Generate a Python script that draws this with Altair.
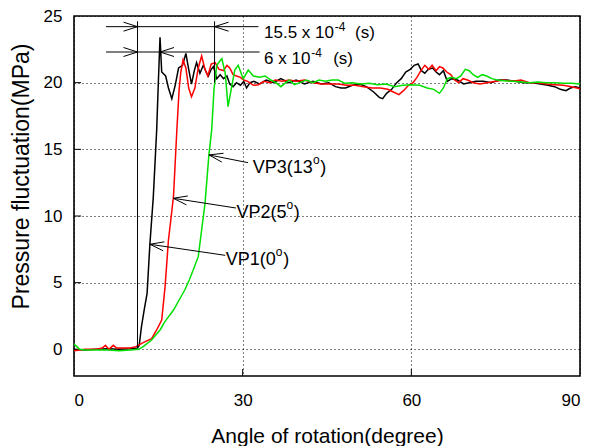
import math
import altair as alt
import pandas as pd

# ---------------- data ----------------
vp1_angle = [0, 2, 4, 6, 8, 10, 11.3, 11.6, 12.0, 12.5, 13.0, 13.5, 14.1, 14.7, 15.0, 15.3, 15.6,
             16.3, 16.8, 17.4, 18.0, 18.6, 19.3, 19.9, 20.4, 20.9, 21.4, 21.8, 22.4, 23.0, 23.5,
             23.9, 24.4, 24.8, 25.4, 26.0, 26.6, 27.2, 27.7, 28.3, 28.9, 29.6, 30.2, 30.7, 31.3,
             32.0, 33.0, 34.2, 35.5, 36.8, 38.2, 39.5, 41.0, 42.5, 44.0, 45.3, 46.5, 47.5, 48.3,
             49.5, 50.8, 52.0, 53.3, 54.3, 54.9, 55.6, 56.5, 57.4, 58.2, 59.0, 59.8, 60.5, 61.2,
             61.8, 62.4, 63.0, 63.8, 64.4, 65.0, 65.7, 66.4, 67.2, 68.2, 69.3, 70.3, 71.5, 72.8,
             74.2, 75.6, 77.0, 78.5, 80.0, 81.5, 83.0, 84.3, 85.5, 86.5, 87.5, 88.3, 89.2, 90.0]
vp1_pressure = [0.0, -0.05, 0.0, 0.05, 0.0, 0.05, 0.1, 0.3, 1.7, 3.0, 4.2, 7.9, 11.4, 16.4, 20.0, 23.4, 20.8,
                20.5, 19.6, 18.8, 19.8, 21.1, 21.3, 22.2, 21.0, 19.9, 20.9, 21.5, 20.7, 21.3, 20.8,
                20.5, 21.0, 21.2, 20.3, 20.6, 20.3, 20.5, 19.9, 19.7, 20.0, 19.8, 20.1, 19.6, 20.0,
                20.1, 19.9, 20.2, 20.0, 20.3, 20.0, 20.2, 19.9, 20.1, 19.9, 20.0, 19.7, 19.6, 19.6,
                19.8, 19.9, 19.7, 19.3, 18.9, 18.8, 19.2, 19.5, 20.0, 20.3, 20.8, 21.0, 21.3, 21.4,
                20.9, 20.7, 21.0, 21.1, 20.8, 20.6, 20.9, 20.1, 20.3, 20.2, 19.9, 20.0, 20.1, 20.1,
                20.0, 20.2, 20.2, 20.1, 20.0, 20.0, 19.9, 19.8, 19.7, 19.5, 19.4, 19.6, 19.7, 19.6]

vp2_angle = [0, 1, 2, 3, 4, 5, 5.6, 6.2, 7.0, 7.6, 8.3, 9, 10, 11, 12.3, 13.8, 14.7, 15.6, 16.2,
             16.8, 17.3, 17.7, 18.3, 18.7, 19.0, 19.4, 19.9, 20.4, 20.9, 21.5, 22.1, 22.7, 23.3,
             23.8, 24.4, 25.1, 25.8, 26.6, 27.2, 27.7, 28.3, 28.9, 29.6, 30.2, 30.9, 31.9, 32.8,
             33.8, 34.8, 35.8, 37.0, 38.3, 39.5, 41.0, 42.5, 44.0, 45.5, 47.0, 48.5, 50.0, 51.5,
             53.0, 54.5, 55.8, 56.8, 57.8, 58.6, 59.5, 60.3, 61.0, 61.7, 62.4, 63.1, 63.7, 64.4,
             65.0, 65.6, 66.3, 67.0, 67.7, 68.4, 69.2, 70.0, 71.0, 72.2, 73.5, 75.0, 76.5, 78.0,
             79.5, 81.0, 82.5, 84.0, 85.5, 87.0, 88.5, 90.0]
vp2_pressure = [-0.1, -0.05, 0.0, 0.0, 0.0, 0.1, 0.3, 0.0, 0.3, 0.1, 0.1, 0.1, 0.1, 0.2, 0.5, 0.8, 1.45, 2.2, 4.7,
                8.2, 10.0, 11.5, 16.5, 19.5, 20.8, 21.7, 21.1, 19.6, 18.95, 19.6, 21.1, 22.0, 21.0,
                20.5, 21.4, 21.5, 21.0, 20.9, 21.3, 21.1, 20.6, 20.5, 20.4, 20.2, 20.1, 19.8, 19.85,
                20.1, 20.0, 20.2, 20.1, 20.2, 20.1, 20.2, 20.0, 19.9, 19.9, 19.9, 19.8, 19.8, 19.7,
                19.6, 19.6, 19.5, 19.3, 19.1, 19.4, 19.8, 20.0, 20.4, 20.9, 21.3, 21.0, 21.3, 20.9,
                21.2, 21.1, 20.8, 20.6, 20.2, 20.0, 20.3, 20.2, 20.0, 19.9, 20.0, 20.1, 20.2, 20.1,
                20.2, 20.0, 20.0, 19.9, 19.85, 19.8, 19.7, 19.55]

vp3_angle = [0, 0.5, 1.0, 2, 3, 4, 6, 8, 10, 11.5, 12.3, 13.8, 15.3, 16.2, 17.7, 18.7, 19.7, 20.5,
             21.2, 22.1, 22.7, 23.3, 24.0, 24.5, 24.9, 25.4, 25.9, 26.3, 26.9, 27.4, 28.05, 28.6,
             29.2, 30.1, 31.0, 31.9, 33.0, 34.0, 35.0, 35.9, 36.8, 37.5, 38.3, 39.2, 40.2, 41.3,
             42.5, 43.6, 44.7, 45.9, 47.0, 48.2, 49.5, 51.0, 52.5, 54.0, 55.5, 57.0, 58.5, 60.0,
             61.5, 62.8, 64.0, 65.0, 65.7, 66.4, 67.2, 68.0, 68.8, 69.6, 70.3, 71.0, 71.8, 72.6,
             73.4, 74.3, 75.3, 76.5, 78.0, 79.5, 81.0, 82.5, 84.0, 85.5, 87.0, 88.5, 90.0]
vp3_pressure = [0.4, 0.2, 0.0, -0.05, -0.05, -0.05, -0.05, -0.1, -0.05, 0.0, 0.2, 0.7, 1.45, 2.1, 2.95, 3.7, 4.45, 5.2,
                5.95, 6.95, 8.95, 10.95, 14.6, 16.5, 19.5, 21.3, 21.6, 21.8, 20.7, 18.2, 19.7, 20.95,
                21.3, 20.3, 20.95, 20.5, 20.4, 20.5, 20.2, 20.0, 19.7, 19.95, 20.2, 19.85, 20.0, 20.2,
                20.0, 20.2, 20.1, 20.2, 20.2, 19.95, 20.0, 19.9, 19.95, 19.85, 19.9, 19.7, 19.8, 19.85,
                19.8, 19.6, 19.5, 19.2, 19.6, 20.3, 20.4, 20.3, 20.5, 21.0, 20.9, 20.6, 20.4, 20.6,
                20.5, 20.3, 20.2, 20.15, 20.1, 20.05, 20.0, 20.05, 20.0, 20.0, 19.95, 19.95, 19.9]

series_names = ["VP1", "VP2", "VP3"]
series_colors = ["#000000", "#ff0000", "#00e000"]

x_ticks = [0, 30, 60, 90]
y_ticks = [0, 5, 10, 15, 20, 25]

# annotation content (data units)
dim_lines = [  # x, y, x2, y2
    (5.7, 24.2, 32.8, 24.2),
    (5.7, 22.3, 33.0, 22.3),
    (11.3, 0.1, 11.3, 24.6),
    (25.0, 20.0, 25.0, 24.6),
]
dim_heads = [  # tail, tip
    ((5.7, 24.2), (11.3, 24.2)),
    ((32.8, 24.2), (25.0, 24.2)),
    ((5.7, 22.3), (11.3, 22.3)),
    ((33.0, 22.3), (15.3, 22.3)),
]
label_arrows = [  # tail (at label), tip (at curve)
    ((30.95, 14.0), (24.0, 14.58)),
    ((28.8, 10.6), (17.66, 11.33)),
    ((26.9, 7.05), (13.5, 7.88)),
]
dim_texts = [
    ("15.5 x 10", 33.8, 23.35), ("(s)", 50.0, 23.35),
    ("6 x 10", 33.8, 21.4), ("(s)", 46.1, 21.4),
]
vp_texts = [
    ("VP3(13", 31.8, 13.2), (")", 43.8, 13.2),
    ("VP2(5", 28.9, 9.83), (")", 39.1, 9.83),
    ("VP1(0", 27.0, 6.32), (")", 37.2, 6.32),
]
sup_texts = [
    ("-4", 46.4, 23.9), ("-4", 42.2, 21.95),
    ("o", 42.5, 13.9), ("o", 37.8, 10.5), ("o", 35.9, 7.0),
]

# ---------------- geometry ----------------
W, H = 506, 360
XD = [0, 90]
YD = [-2, 25]
PX_X = W / (XD[1] - XD[0])
PX_Y = H / (YD[1] - YD[0])
FONT = "Liberation Sans"

rows = []
for name, xs_, ys_ in zip(series_names, [vp1_angle, vp2_angle, vp3_angle],
                          [vp1_pressure, vp2_pressure, vp3_pressure]):
    for i, (a, p) in enumerate(zip(xs_, ys_)):
        rows.append({"series": name, "angle": a, "pressure": p, "order": i})
lines_df = pd.DataFrame(rows)


def head(tail, tip, L=14.0, half=4.5):
    dx = (tip[0] - tail[0]) * PX_X
    dy = (tip[1] - tail[1]) * PX_Y
    n = math.hypot(dx, dy)
    ux, uy = dx / n, dy / n
    px, py = -uy, ux
    segs = []
    for s in (1, -1):
        wx = (-ux * L + s * px * half) / PX_X
        wy = (-uy * L + s * py * half) / PX_Y
        segs.append((tip[0], tip[1], tip[0] + wx, tip[1] + wy))
    return segs


seg_rows = []
for (x, y, x2, y2) in dim_lines:
    seg_rows.append({"x": x, "y": y, "x2": x2, "y2": y2})
for tail, tip in label_arrows:
    seg_rows.append({"x": tail[0], "y": tail[1], "x2": tip[0], "y2": tip[1]})
for tail, tip in dim_heads + label_arrows:
    for (a, b, c, d) in head(tail, tip):
        seg_rows.append({"x": a, "y": b, "x2": c, "y2": d})
# inward ticks
for t in x_ticks[1:-1]:
    seg_rows.append({"x": t, "y": YD[0], "x2": t, "y2": YD[0] + 7 / PX_Y})
for t in y_ticks[1:-1]:
    seg_rows.append({"x": XD[0], "y": t, "x2": XD[0] + 7 / PX_X, "y2": t})
seg_df = pd.DataFrame(seg_rows)

dim_df = pd.DataFrame(dim_texts, columns=["text", "x", "y"])
vp_df = pd.DataFrame(vp_texts, columns=["text", "x", "y"])
sup_df = pd.DataFrame(sup_texts, columns=["text", "x", "y"])

xs = alt.Scale(domain=XD, nice=False, zero=False)
ys = alt.Scale(domain=YD, nice=False, zero=False)
XT = "Angle of rotation(degree)"
YT = "Pressure fluctuation(MPa)"
x_axis = alt.Axis(values=x_ticks, labelFontSize=17, labelPadding=29, labelBaseline="alphabetic",
                  titleFontSize=21, titleBaseline="alphabetic", titleY=66)
y_axis = alt.Axis(values=y_ticks, labelFontSize=17, labelPadding=12,
                  titleFontSize=23, titleX=-41, titleY=160, titleBaseline="bottom")


def X(f):
    return alt.X(f, type="quantitative", scale=xs, axis=x_axis, title=XT)


def Y(f):
    return alt.Y(f, type="quantitative", scale=ys, axis=y_axis, title=YT)


lines = alt.Chart(lines_df).mark_line(strokeWidth=1.5).encode(
    x=X("angle"), y=Y("pressure"),
    color=alt.Color("series:N", scale=alt.Scale(domain=series_names, range=series_colors), legend=None),
    order="order:Q",
)
segs = alt.Chart(seg_df).mark_rule(color="black", strokeWidth=1).encode(
    x=X("x"), y=Y("y"), x2="x2:Q", y2="y2:Q"
)
t_dim = alt.Chart(dim_df).mark_text(align="left", baseline="alphabetic", font=FONT,
                                    fontSize=17, color="black").encode(
    x=X("x"), y=Y("y"), text="text:N")
t_vp = alt.Chart(vp_df).mark_text(align="left", baseline="alphabetic", font=FONT,
                                  fontSize=18, color="black").encode(
    x=X("x"), y=Y("y"), text="text:N")
t_sup = alt.Chart(sup_df).mark_text(align="left", baseline="alphabetic", font=FONT,
                                    fontSize=12, color="black").encode(
    x=X("x"), y=Y("y"), text="text:N")

chart = alt.layer(lines, segs, t_dim, t_vp, t_sup).properties(
    width=W, height=H,
    padding={"left": 66, "top": 8, "right": 4, "bottom": 70},
    autosize=alt.AutoSizeParams(type="none"),
    background="white",
).configure_view(stroke="black", strokeWidth=1.6).configure_axis(
    labelFont=FONT, titleFont=FONT, labelColor="black", titleColor="black",
    titleFontWeight="normal", grid=True, gridColor="black", gridDash=[1, 3], gridWidth=1,
    gridOpacity=1, ticks=False, domain=False,
)

chart.save("out.html", embed_options={"renderer": "svg", "actions": False})
